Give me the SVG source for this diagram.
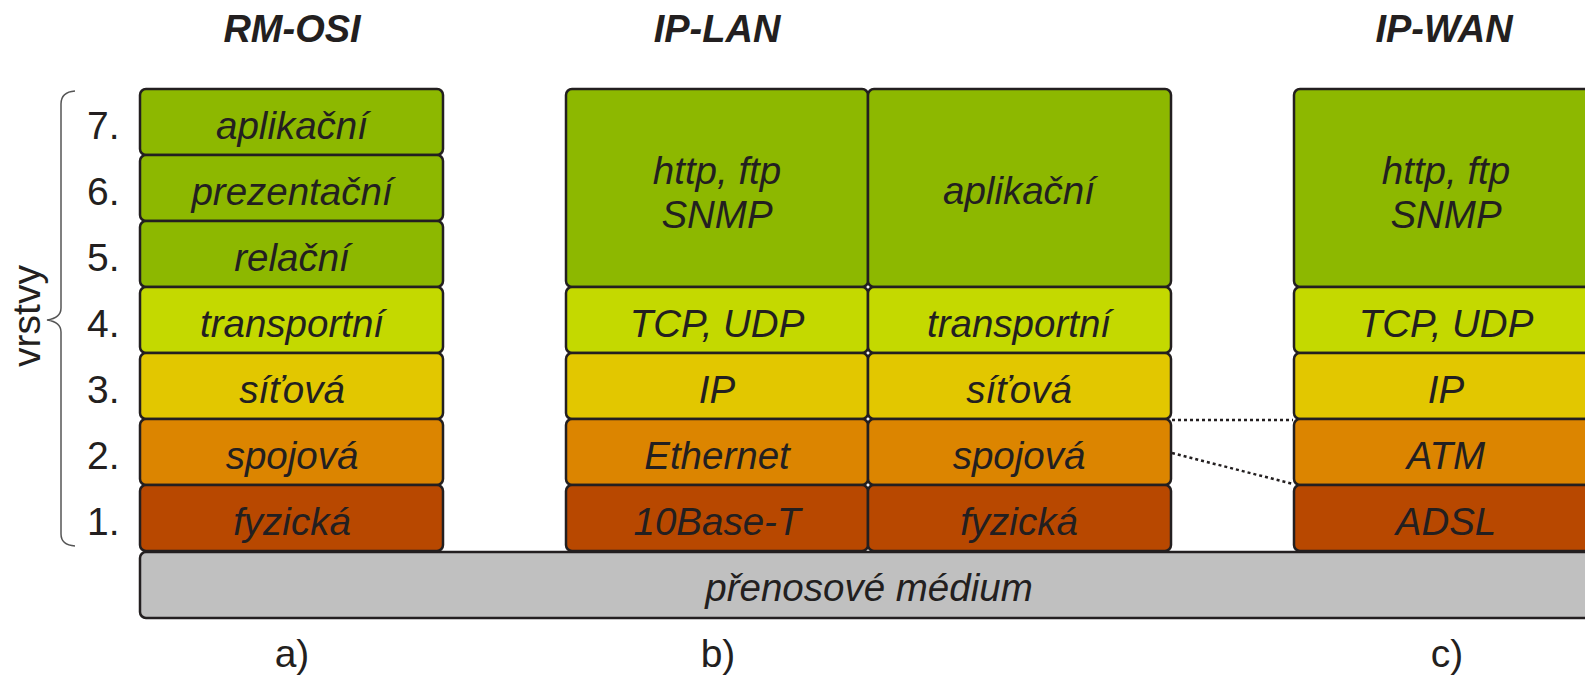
<svg xmlns="http://www.w3.org/2000/svg" width="1585" height="676" viewBox="0 0 1585 676">
<style>
.box{stroke:#231f20;stroke-width:2.5}
.g{fill:#8db800}.l{fill:#c4d900}.y{fill:#e2c700}.o{fill:#dc8500}.r{fill:#b84800}.m{fill:#c0c0c0}
.t{font-family:"Liberation Sans",Arial,sans-serif;font-size:38.5px;font-style:italic;fill:#231f20;text-anchor:middle}
.n{font-family:"Liberation Sans",Arial,sans-serif;font-size:39px;fill:#231f20}
.h{font-family:"Liberation Sans",Arial,sans-serif;font-size:38px;font-style:italic;font-weight:bold;fill:#231f20;text-anchor:middle}
.c{fill:none;stroke:#231f20;stroke-width:2.5;stroke-dasharray:3 3}
</style>
<rect width="1585" height="676" fill="#fff"/>
<g id="titles">
<text class="h" x="292" y="42">RM-OSI</text>
<text class="h" x="717" y="42">IP-LAN</text>
<text class="h" x="1444" y="42">IP-WAN</text>
</g>
<g id="brace">
<path d="M75,91 Q61,92 61,104 L61,308 Q61,318 47,320 Q61,322 61,332 L61,534 Q61,545 75,546" fill="none" stroke="#555" stroke-width="1.5"/>
<text class="n" font-size="28" transform="translate(40,316) rotate(-90)" text-anchor="middle">vrstvy</text>
</g>
<g id="numbers">
<text class="n" x="87" y="139">7.</text>
<text class="n" x="87" y="205">6.</text>
<text class="n" x="87" y="271">5.</text>
<text class="n" x="87" y="337">4.</text>
<text class="n" x="87" y="403">3.</text>
<text class="n" x="87" y="469">2.</text>
<text class="n" x="87" y="535">1.</text>
</g>
<g id="medium">
<rect class="box m" x="140" y="552" width="1470" height="66" rx="6"/>
<text class="t" x="869" y="601">přenosové médium</text>
</g>
<g id="rm-osi">
<rect class="box g" x="140" y="89" width="303" height="66" rx="6"/>
<text class="t" x="292" y="139">aplikační</text>
<rect class="box g" x="140" y="155" width="303" height="66" rx="6"/>
<text class="t" x="292" y="205">prezentační</text>
<rect class="box g" x="140" y="221" width="303" height="66" rx="6"/>
<text class="t" x="292" y="271">relační</text>
<rect class="box l" x="140" y="287" width="303" height="66" rx="6"/>
<text class="t" x="292" y="337">transportní</text>
<rect class="box y" x="140" y="353" width="303" height="66" rx="6"/>
<text class="t" x="292" y="403">síťová</text>
<rect class="box o" x="140" y="419" width="303" height="66" rx="6"/>
<text class="t" x="292" y="469">spojová</text>
<rect class="box r" x="140" y="485" width="303" height="66" rx="6"/>
<text class="t" x="292" y="535">fyzická</text>
</g>
<g id="ip-lan-protocols">
<rect class="box g" x="566" y="89" width="302" height="198" rx="6"/>
<text class="t" x="717" y="184">http, ftp</text>
<text class="t" x="717" y="228">SNMP</text>
<rect class="box l" x="566" y="287" width="302" height="66" rx="6"/>
<text class="t" x="717" y="337">TCP, UDP</text>
<rect class="box y" x="566" y="353" width="302" height="66" rx="6"/>
<text class="t" x="717" y="403">IP</text>
<rect class="box o" x="566" y="419" width="302" height="66" rx="6"/>
<text class="t" x="717" y="469">Ethernet</text>
<rect class="box r" x="566" y="485" width="302" height="66" rx="6"/>
<text class="t" x="717" y="535">10Base-T</text>
</g>
<g id="ip-lan-layers">
<rect class="box g" x="868" y="89" width="303" height="198" rx="6"/>
<text class="t" x="1019" y="204">aplikační</text>
<rect class="box l" x="868" y="287" width="303" height="66" rx="6"/>
<text class="t" x="1019" y="337">transportní</text>
<rect class="box y" x="868" y="353" width="303" height="66" rx="6"/>
<text class="t" x="1019" y="403">síťová</text>
<rect class="box o" x="868" y="419" width="303" height="66" rx="6"/>
<text class="t" x="1019" y="469">spojová</text>
<rect class="box r" x="868" y="485" width="303" height="66" rx="6"/>
<text class="t" x="1019" y="535">fyzická</text>
</g>
<g id="ip-wan">
<rect class="box g" x="1294" y="89" width="304" height="198" rx="6"/>
<text class="t" x="1446" y="184">http, ftp</text>
<text class="t" x="1446" y="228">SNMP</text>
<rect class="box l" x="1294" y="287" width="304" height="66" rx="6"/>
<text class="t" x="1446" y="337">TCP, UDP</text>
<rect class="box y" x="1294" y="353" width="304" height="66" rx="6"/>
<text class="t" x="1446" y="403">IP</text>
<rect class="box o" x="1294" y="419" width="304" height="66" rx="6"/>
<text class="t" x="1446" y="469">ATM</text>
<rect class="box r" x="1294" y="485" width="304" height="66" rx="6"/>
<text class="t" x="1446" y="535">ADSL</text>
</g>
<g id="connectors">
<line class="c" x1="1172" y1="420" x2="1293" y2="420"/>
<line class="c" x1="1172" y1="453" x2="1293" y2="484"/>
</g>
<g id="captions">
<text class="n" x="292" y="667" text-anchor="middle">a)</text>
<text class="n" x="718" y="667" text-anchor="middle">b)</text>
<text class="n" x="1447" y="667" text-anchor="middle">c)</text>
</g>
</svg>
